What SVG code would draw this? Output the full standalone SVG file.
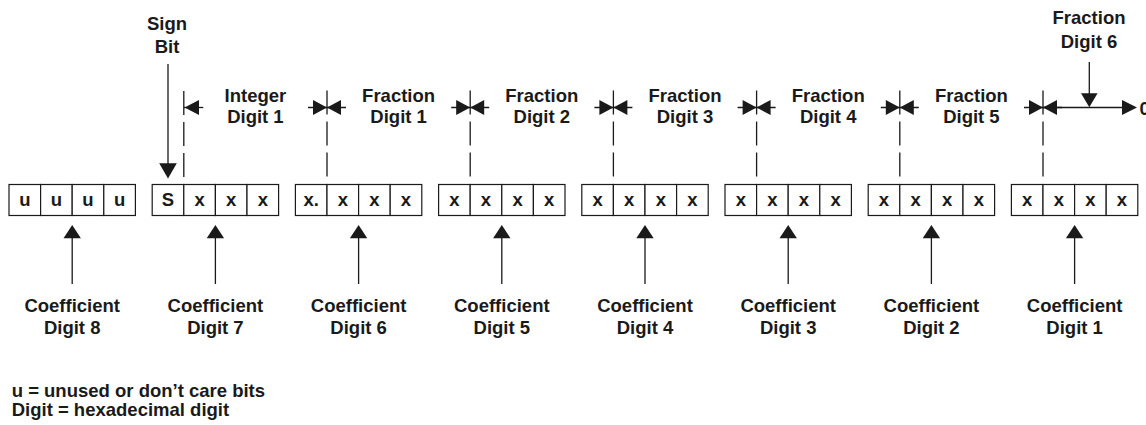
<svg xmlns="http://www.w3.org/2000/svg" xmlns:xlink="http://www.w3.org/1999/xlink" width="1146" height="425" viewBox="0 0 1146 425">
<style>
text{font-family:"Liberation Sans",Arial,Helvetica,sans-serif;font-weight:bold;font-size:18.5px;fill:#1a1a1a}
.c{text-anchor:middle}
.cell{fill:#fff;stroke:#1a1a1a;stroke-width:1.2}
.ln{stroke:#1a1a1a;stroke-width:1.3;fill:none}
.dash{stroke:#1a1a1a;stroke-width:1.3;stroke-dasharray:24 7;fill:none}
.ah{fill:#1a1a1a;stroke:none}
</style>
<defs>
<g id="dbl"><path class="ln" d="M-19,0H19"/><path class="ah" d="M-14,-7.5L0,0L-14,7.5Z"/><path class="ah" d="M14,-7.5L0,0L14,7.5Z"/></g>
<g id="up"><path class="ln" d="M0,284V237"/><path class="ah" d="M-8.7,238.3L0,225L8.7,238.3Z"/></g>
<g id="four">
<rect class="cell" x="0" y="184.5" width="31.6" height="31"/>
<rect class="cell" x="31.6" y="184.5" width="31.6" height="31"/>
<rect class="cell" x="63.2" y="184.5" width="31.6" height="31"/>
<rect class="cell" x="94.8" y="184.5" width="31.6" height="31"/>
</g>
</defs>
<rect width="1146" height="425" fill="#fff"/>

<g id="reg-u" transform="translate(9,0)"><use xlink:href="#four"/><text class="c" x="15.8" y="206">u</text><text class="c" x="47.4" y="206">u</text><text class="c" x="79" y="206">u</text><text class="c" x="110.6" y="206">u</text></g>
<g id="reg-s" transform="translate(152.2,0)"><use xlink:href="#four"/><text class="c" x="15.8" y="206">S</text><text class="c" x="47.4" y="206">x</text><text class="c" x="79" y="206">x</text><text class="c" x="110.6" y="206">x</text></g>
<g id="reg-f1" transform="translate(295.4,0)"><use xlink:href="#four"/><text class="c" x="15.8" y="206">x.</text><text class="c" x="47.4" y="206">x</text><text class="c" x="79" y="206">x</text><text class="c" x="110.6" y="206">x</text></g>
<g id="reg-f2" transform="translate(438.6,0)"><use xlink:href="#four"/><text class="c" x="15.8" y="206">x</text><text class="c" x="47.4" y="206">x</text><text class="c" x="79" y="206">x</text><text class="c" x="110.6" y="206">x</text></g>
<g id="reg-f3" transform="translate(581.8,0)"><use xlink:href="#four"/><text class="c" x="15.8" y="206">x</text><text class="c" x="47.4" y="206">x</text><text class="c" x="79" y="206">x</text><text class="c" x="110.6" y="206">x</text></g>
<g id="reg-f4" transform="translate(725,0)"><use xlink:href="#four"/><text class="c" x="15.8" y="206">x</text><text class="c" x="47.4" y="206">x</text><text class="c" x="79" y="206">x</text><text class="c" x="110.6" y="206">x</text></g>
<g id="reg-f5" transform="translate(868.2,0)"><use xlink:href="#four"/><text class="c" x="15.8" y="206">x</text><text class="c" x="47.4" y="206">x</text><text class="c" x="79" y="206">x</text><text class="c" x="110.6" y="206">x</text></g>
<g id="reg-f6" transform="translate(1011.4,0)"><use xlink:href="#four"/><text class="c" x="15.8" y="206">x</text><text class="c" x="47.4" y="206">x</text><text class="c" x="79" y="206">x</text><text class="c" x="110.6" y="206">x</text></g>

<g id="lbl-sign"><text class="c" x="167" y="30">Sign</text><text class="c" x="167" y="52.7">Bit</text></g>
<g id="lbl-int1"><text class="c" x="255.4" y="101.7">Integer</text><text class="c" x="255.4" y="123.3">Digit 1</text></g>
<g id="lbl-fr1"><text class="c" x="398.6" y="101.7">Fraction</text><text class="c" x="398.6" y="123.3">Digit 1</text></g>
<g id="lbl-fr2"><text class="c" x="541.8" y="101.7">Fraction</text><text class="c" x="541.8" y="123.3">Digit 2</text></g>
<g id="lbl-fr3"><text class="c" x="685" y="101.7">Fraction</text><text class="c" x="685" y="123.3">Digit 3</text></g>
<g id="lbl-fr4"><text class="c" x="828.2" y="101.7">Fraction</text><text class="c" x="828.2" y="123.3">Digit 4</text></g>
<g id="lbl-fr5"><text class="c" x="971.4" y="101.7">Fraction</text><text class="c" x="971.4" y="123.3">Digit 5</text></g>
<g id="lbl-fr6"><text class="c" x="1089" y="24">Fraction</text><text class="c" x="1089" y="48.3">Digit 6</text></g>
<g id="lbl-zero"><text x="1139.5" y="115">0</text></g>

<g id="coef8"><text class="c" x="72.2" y="311.5">Coefficient</text><text class="c" x="72.2" y="334">Digit 8</text></g>
<g id="coef7"><text class="c" x="215.4" y="311.5">Coefficient</text><text class="c" x="215.4" y="334">Digit 7</text></g>
<g id="coef6"><text class="c" x="358.6" y="311.5">Coefficient</text><text class="c" x="358.6" y="334">Digit 6</text></g>
<g id="coef5"><text class="c" x="501.8" y="311.5">Coefficient</text><text class="c" x="501.8" y="334">Digit 5</text></g>
<g id="coef4"><text class="c" x="645" y="311.5">Coefficient</text><text class="c" x="645" y="334">Digit 4</text></g>
<g id="coef3"><text class="c" x="788.2" y="311.5">Coefficient</text><text class="c" x="788.2" y="334">Digit 3</text></g>
<g id="coef2"><text class="c" x="931.4" y="311.5">Coefficient</text><text class="c" x="931.4" y="334">Digit 2</text></g>
<g id="coef1"><text class="c" x="1074.6" y="311.5">Coefficient</text><text class="c" x="1074.6" y="334">Digit 1</text></g>

<g id="legend"><text x="11.7" y="396.7">u = unused or don’t care bits</text><text x="11.7" y="415.5">Digit = hexadecimal digit</text></g>

<g id="connectors">
<path class="ln" d="M168,64V164"/><path class="ah" d="M159.2,163.3L168,178.5L176.8,163.3Z"/>
<path class="ln" d="M1089.3,62V94"/><path class="ah" d="M1081,93.3L1089.3,107.3L1097.6,93.3Z"/>
<path class="dash" d="M183.8,91V178"/>
<path class="dash" d="M327,90.5V178"/>
<path class="dash" d="M470.2,90.5V178"/>
<path class="dash" d="M613.4,90.5V178"/>
<path class="dash" d="M756.6,90.5V178"/>
<path class="dash" d="M899.8,90.5V178"/>
<path class="dash" d="M1043,90.5V178"/>
<path class="ln" d="M183.8,107.5H203.3"/><path class="ah" d="M199,100L184.6,107.5L199,115Z"/>
<use xlink:href="#dbl" transform="translate(327,107.5)"/>
<use xlink:href="#dbl" transform="translate(470.2,107.5)"/>
<use xlink:href="#dbl" transform="translate(613.4,107.5)"/>
<use xlink:href="#dbl" transform="translate(756.6,107.5)"/>
<use xlink:href="#dbl" transform="translate(899.8,107.5)"/>
<use xlink:href="#dbl" transform="translate(1043,107.5)"/>
<path class="ln" d="M1043,107.5H1124"/><path class="ah" d="M1122,100L1137,107.5L1122,115Z"/>
<use xlink:href="#up" transform="translate(72.2,0)"/>
<use xlink:href="#up" transform="translate(215.4,0)"/>
<use xlink:href="#up" transform="translate(358.6,0)"/>
<use xlink:href="#up" transform="translate(501.8,0)"/>
<use xlink:href="#up" transform="translate(645,0)"/>
<use xlink:href="#up" transform="translate(788.2,0)"/>
<use xlink:href="#up" transform="translate(931.4,0)"/>
<use xlink:href="#up" transform="translate(1074.6,0)"/>
</g>
</svg>
